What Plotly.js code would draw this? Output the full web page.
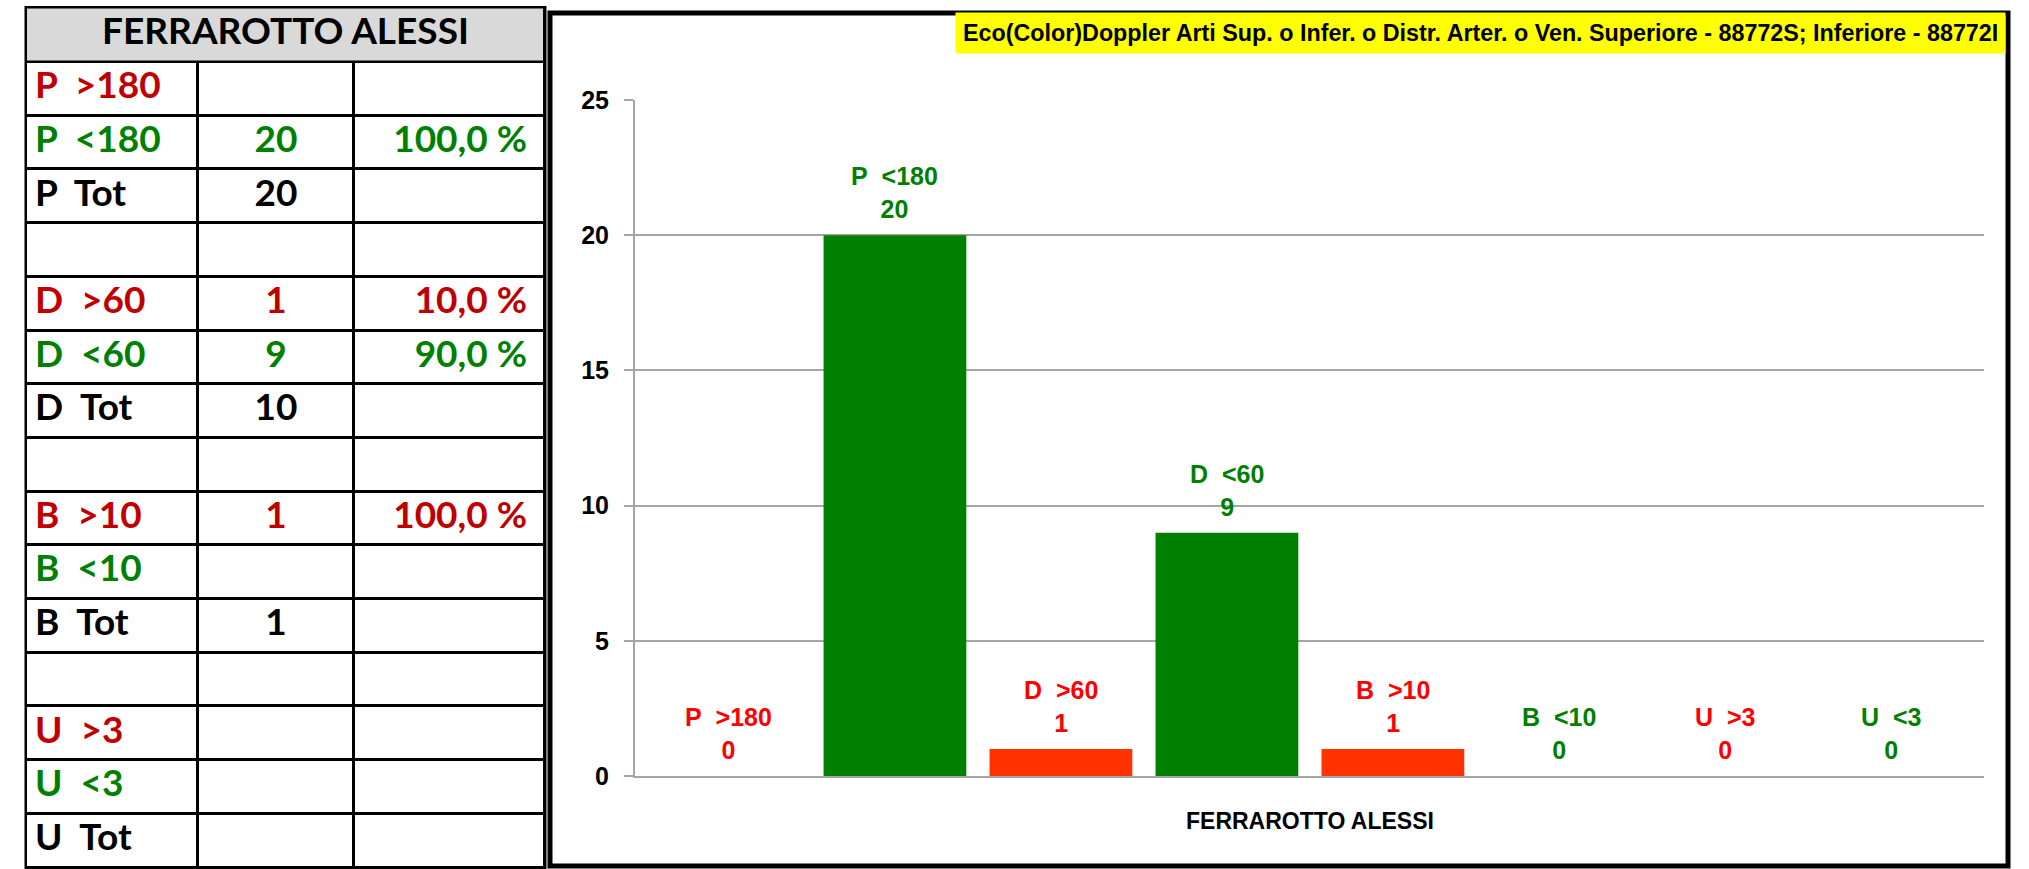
<!DOCTYPE html>
<html>
<head>
<meta charset="utf-8">
<script src="https://cdn.plot.ly/plotly-3.0.1.min.js"></script>
<style>html,body{margin:0;padding:0;background:#fff;overflow:hidden}</style>
</head>
<body>
<div id="chart" style="width:2029px;height:869px"></div>
<script>
// ---------------- data ----------------
const patientName = 'FERRAROTTO ALESSI';
const chartTitle = 'Eco(Color)Doppler Arti Sup. o Infer. o Distr. Arter. o Ven. Superiore - 88772S; Inferiore - 88772I';
const categories = ['P >180', 'P <180', 'D >60', 'D <60', 'B >10', 'B <10', 'U >3', 'U <3'];
const counts = [0, 20, 1, 9, 1, 0, 0, 0];
const yTicks = [0, 5, 10, 15, 20, 25];
const tableLabels = ['P >180', 'P <180', 'P Tot', '', 'D >60', 'D <60', 'D Tot', '', 'B >10', 'B <10', 'B Tot', '', 'U >3', 'U <3', 'U Tot'];
const tableCounts = ['', '20', '20', '', '1', '9', '10', '', '1', '', '1', '', '', '', ''];
const tablePercents = ['', '100,0 %', '', '', '10,0 %', '90,0 %', '', '', '100,0 %', '', '', '', '', '', ''];

// ---------------- style ----------------
const W = 2029, H = 869;
const CHARTFONT = '"Liberation Sans", Arial, sans-serif';
const TABLEFONT = 'Lato, "Liberation Sans", sans-serif';
const GRID = '#a6a6a6';
function tone(s) { return s.indexOf('>') >= 0 ? 'high' : (s.indexOf('<') >= 0 ? 'low' : 'tot'); }
function esc(s) { return s.replace(/&/g, '&amp;').replace(/</g, '&lt;').replace(/>/g, '&gt;'); }
function spaced(s) { return s.replace(/ /g, '\u00a0\u00a0'); }
const tableTextColor = { high: '#c00000', low: '#008000', tot: '#000000' };
const barColor = { high: '#ff3300', low: '#008000', tot: '#000000' };
const labelColor = { high: '#ff0000', low: '#008000', tot: '#000000' };

// table geometry (pixel units on the table's own axes)
const colWidths = [172, 156, 191];
const headerHeight = 54.5, rowHeight = 53.7, tableTop = 7.5, lineW = 3;
const colEdges = colWidths.reduce((a, w) => a.concat(a[a.length - 1] + w), [0]);
const tableWidth = colEdges[colEdges.length - 1];
const rowEdges = tableLabels.reduce((a) => a.concat(a[a.length - 1] + rowHeight), [headerHeight]);
const rowCenters = tableLabels.map((_, i) => (rowEdges[i] + rowEdges[i + 1]) / 2);
const rowColors = tableLabels.map(l => tableTextColor[tone(l)]);
const half = lineW / 2;
const tableLeftPx = 26;

const headerCell = {
  type: 'heatmap', xaxis: 'x2', yaxis: 'y2',
  x: [0, tableWidth], y: [0, headerHeight], z: [[1]],
  colorscale: [[0, '#d9d9d9'], [1, '#d9d9d9']], showscale: false,
  xgap: lineW, ygap: lineW, hoverinfo: 'skip'
};
const bodyCells = {
  type: 'heatmap', xaxis: 'x2', yaxis: 'y2',
  x: colEdges, y: rowEdges, z: tableLabels.map(() => colWidths.map(() => 0)),
  colorscale: [[0, '#ffffff'], [1, '#ffffff']], showscale: false,
  xgap: lineW, ygap: lineW, hoverinfo: 'skip'
};
const tfont = (color) => ({ family: TABLEFONT, size: 37, weight: 'bold', color: color });
const headerText = {
  type: 'scatter', mode: 'text', xaxis: 'x2', yaxis: 'y2',
  x: [tableWidth / 2], y: [headerHeight / 2], text: [esc(patientName)],
  textposition: 'middle center', textfont: tfont('#000000'), hoverinfo: 'skip', cliponaxis: false
};
const labelText = {
  type: 'scatter', mode: 'text', xaxis: 'x2', yaxis: 'y2',
  x: tableLabels.map(() => colEdges[0] + 9), y: rowCenters,
  text: tableLabels.map(s => esc(spaced(s))),
  textposition: 'middle right', textfont: tfont(rowColors), hoverinfo: 'skip', cliponaxis: false
};
const countText = {
  type: 'scatter', mode: 'text', xaxis: 'x2', yaxis: 'y2',
  x: tableCounts.map(() => (colEdges[1] + colEdges[2]) / 2), y: rowCenters,
  text: tableCounts.map(esc),
  textposition: 'middle center', textfont: tfont(rowColors), hoverinfo: 'skip', cliponaxis: false
};
const percentText = {
  type: 'scatter', mode: 'text', xaxis: 'x2', yaxis: 'y2',
  x: tablePercents.map(() => colEdges[3] - 18), y: rowCenters,
  text: tablePercents.map(s => esc(s.replace(/ /g, '\u00a0'))),
  textposition: 'middle left', textfont: tfont(rowColors), hoverinfo: 'skip', cliponaxis: false
};

const bars = {
  type: 'bar',
  x: categories,
  y: counts,
  width: 0.86,
  marker: { color: categories.map(c => barColor[tone(c)]), line: { width: 0 } },
  hoverinfo: 'skip',
  showlegend: false
};

const labelAnnotations = categories.map((c, i) => ({
  x: c, y: counts[i], xref: 'x', yref: 'y',
  yanchor: 'bottom', yshift: 10, showarrow: false, align: 'center',
  text: esc(spaced(c)) + '<br>' + counts[i],
  font: { family: CHARTFONT, size: 25, weight: 'bold', color: labelColor[tone(c)] }
}));

const tableSpanPx = tableWidth + lineW;
const tableHeightPx = H - tableTop + half;

const layout = {
  width: W, height: H,
  margin: { l: 0, r: 0, t: 0, b: 0 },
  paper_bgcolor: 'white', plot_bgcolor: 'white',
  showlegend: false,
  xaxis: {
    domain: [635 / W, 1984 / W], type: 'category', range: [-0.566, 7.561],
    showticklabels: false, ticks: '', showgrid: false, zeroline: false,
    showline: true, linecolor: GRID, linewidth: 2, fixedrange: true
  },
  yaxis: {
    domain: [1 - 776 / H, 1 - 100 / H], range: [0, 25], tickvals: yTicks,
    ticks: 'outside', ticklen: 9, tickwidth: 2, tickcolor: GRID, ticklabelstandoff: 10,
    showgrid: true, gridcolor: GRID, gridwidth: 2, zeroline: false,
    showline: true, linecolor: GRID, linewidth: 2, fixedrange: true,
    tickfont: { family: CHARTFONT, size: 25, weight: 'bold', color: 'black' }
  },
  xaxis2: {
    domain: [(tableLeftPx - half) / W, (tableLeftPx - half + tableSpanPx) / W],
    range: [-half, tableWidth + half], visible: false, fixedrange: true
  },
  yaxis2: {
    domain: [0, 1 - (tableTop - half) / H],
    range: [tableHeightPx - half, -half], visible: false, fixedrange: true
  },
  shapes: [
    { type: 'rect', xref: 'x2 domain', yref: 'y2 domain', x0: 0, x1: 1, y0: 0, y1: 1,
      fillcolor: 'black', line: { width: 0 }, layer: 'below' },
    { type: 'rect', xref: 'paper', yref: 'paper', x0: 550 / W, x1: 2008 / W, y0: 1 - 866 / H, y1: 1 - 13 / H,
      line: { color: 'black', width: 5 }, fillcolor: 'rgba(0,0,0,0)', layer: 'below' },
    { type: 'line', xref: 'x domain', yref: 'y', x0: 0, x1: 0, ysizemode: 'pixel', yanchor: 0, y0: 0, y1: -9,
      line: { color: GRID, width: 2 } },
    { type: 'line', xref: 'x domain', yref: 'y', x0: 1, x1: 1, ysizemode: 'pixel', yanchor: 0, y0: 0, y1: -9,
      line: { color: GRID, width: 2 } }
  ],
  annotations: [
    { xref: 'paper', yref: 'paper', x: 2006 / W, y: 1 - 12 / H, xanchor: 'right', yanchor: 'top',
      showarrow: false, bgcolor: '#ffff00', borderpad: 7,
      text: esc(chartTitle), font: { family: CHARTFONT, size: 23.3, weight: 'bold', color: 'black' } },
    { xref: 'x domain', yref: 'paper', x: 0.5, y: 1 - 821 / H, xanchor: 'center', yanchor: 'middle',
      showarrow: false, text: esc(patientName),
      font: { family: CHARTFONT, size: 23, weight: 'bold', color: 'black' } }
  ].concat(labelAnnotations)
};

Plotly.newPlot('chart', [headerCell, bodyCells, headerText, labelText, countText, percentText, bars], layout,
  { staticPlot: true, displayModeBar: false });
</script>
</body>
</html>
